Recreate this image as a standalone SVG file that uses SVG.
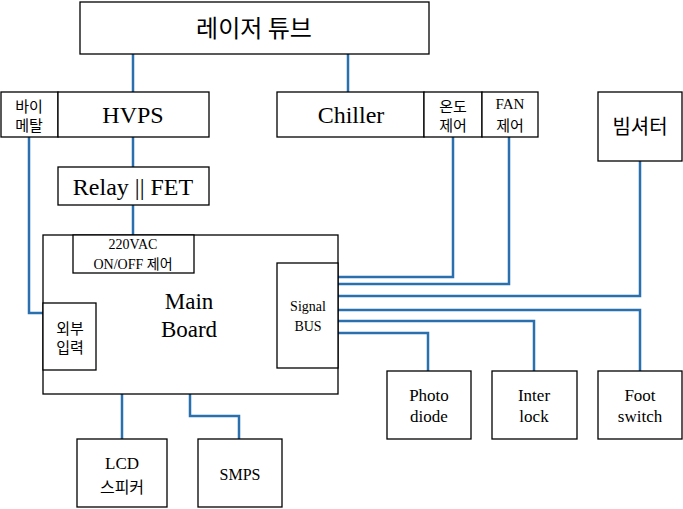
<svg xmlns="http://www.w3.org/2000/svg" width="683" height="509" viewBox="0 0 683 509">
<style>
.b{fill:#fff;stroke:#000;stroke-width:1.3}
.c{fill:none;stroke:#2A70AE;stroke-width:2.5}
.s{font-family:'Liberation Serif','DejaVu Serif',serif;fill:#000;text-anchor:middle}
.k{font-family:'Noto Sans CJK KR','Noto Sans',sans-serif;fill:#000;text-anchor:middle}
.m{font-family:'Liberation Serif','Noto Sans CJK KR',serif;fill:#000;text-anchor:middle}
</style>
<rect width="683" height="509" fill="#fff"/>
<g id="connectors">
<path class="c" d="M133 54V92M348 54V92M133 137V167M133 205V235M29 137V313H43M453 137V277H338M509 137V284H338M640 161V296H338M640 371V310H338M534 371V321H338M428 371V333H338M122 394V439M190 394V416H239V439"/>
</g>
<g id="laser"><rect class="b" x="80" y="2" width="349" height="52"/><text class="k" x="254" y="37" font-size="24">레이저 튜브</text></g>
<g id="bimetal"><rect class="b" x="1" y="92" width="57" height="45"/><text class="k" x="29" y="112" font-size="15">바이</text><text class="k" x="29" y="131" font-size="15">메탈</text></g>
<g id="hvps"><rect class="b" x="58" y="92" width="151" height="45"/><text class="s" x="133" y="123" font-size="24">HVPS</text></g>
<g id="chiller"><rect class="b" x="277" y="92" width="147" height="45"/><text class="s" x="351" y="123" font-size="24">Chiller</text></g>
<g id="temp"><rect class="b" x="424" y="92" width="58" height="45"/><text class="k" x="453" y="112" font-size="15">온도</text><text class="k" x="453" y="131" font-size="15">제어</text></g>
<g id="fan"><rect class="b" x="482" y="92" width="56" height="45"/><text class="s" x="510" y="109" font-size="15">FAN</text><text class="k" x="510" y="131" font-size="15">제어</text></g>
<g id="shutter"><rect class="b" x="598" y="92" width="84" height="69"/><text class="k" x="640" y="134" font-size="20">빔셔터</text></g>
<g id="relay"><rect class="b" x="58" y="167" width="151" height="38"/><text class="s" x="133" y="195" font-size="24">Relay || FET</text></g>
<g id="mainboard"><rect class="b" x="43" y="235" width="295" height="159"/><text class="s" x="189" y="309" font-size="23">Main</text><text class="s" x="189" y="337" font-size="23">Board</text></g>
<g id="vac"><rect class="b" x="73" y="235" width="121" height="38"/><text class="s" x="133" y="249" font-size="14">220VAC</text><text class="m" x="133" y="269" font-size="14">ON/OFF 제어</text></g>
<g id="ext"><rect class="b" x="43" y="303" width="53" height="67"/><text class="k" x="70" y="334" font-size="15">외부</text><text class="k" x="70" y="353" font-size="15">입력</text></g>
<g id="bus"><rect class="b" x="277" y="263" width="61" height="105"/><text class="s" x="308" y="311" font-size="14">Signal</text><text class="s" x="308" y="331" font-size="14">BUS</text></g>
<g id="photo"><rect class="b" x="387" y="371" width="84" height="68"/><text class="s" x="429" y="401" font-size="17">Photo</text><text class="s" x="429" y="422" font-size="17">diode</text></g>
<g id="interlock"><rect class="b" x="492" y="371" width="85" height="68"/><text class="s" x="534" y="401" font-size="17">Inter</text><text class="s" x="534" y="422" font-size="17">lock</text></g>
<g id="foot"><rect class="b" x="598" y="371" width="84" height="68"/><text class="s" x="640" y="401" font-size="17">Foot</text><text class="s" x="640" y="422" font-size="17">switch</text></g>
<g id="lcd"><rect class="b" x="77" y="439" width="90" height="68"/><text class="s" x="122" y="469" font-size="17">LCD</text><text class="k" x="122" y="493" font-size="16">스피커</text></g>
<g id="smps"><rect class="b" x="198" y="439" width="84" height="68"/><text class="s" x="240" y="480" font-size="16">SMPS</text></g>
</svg>
